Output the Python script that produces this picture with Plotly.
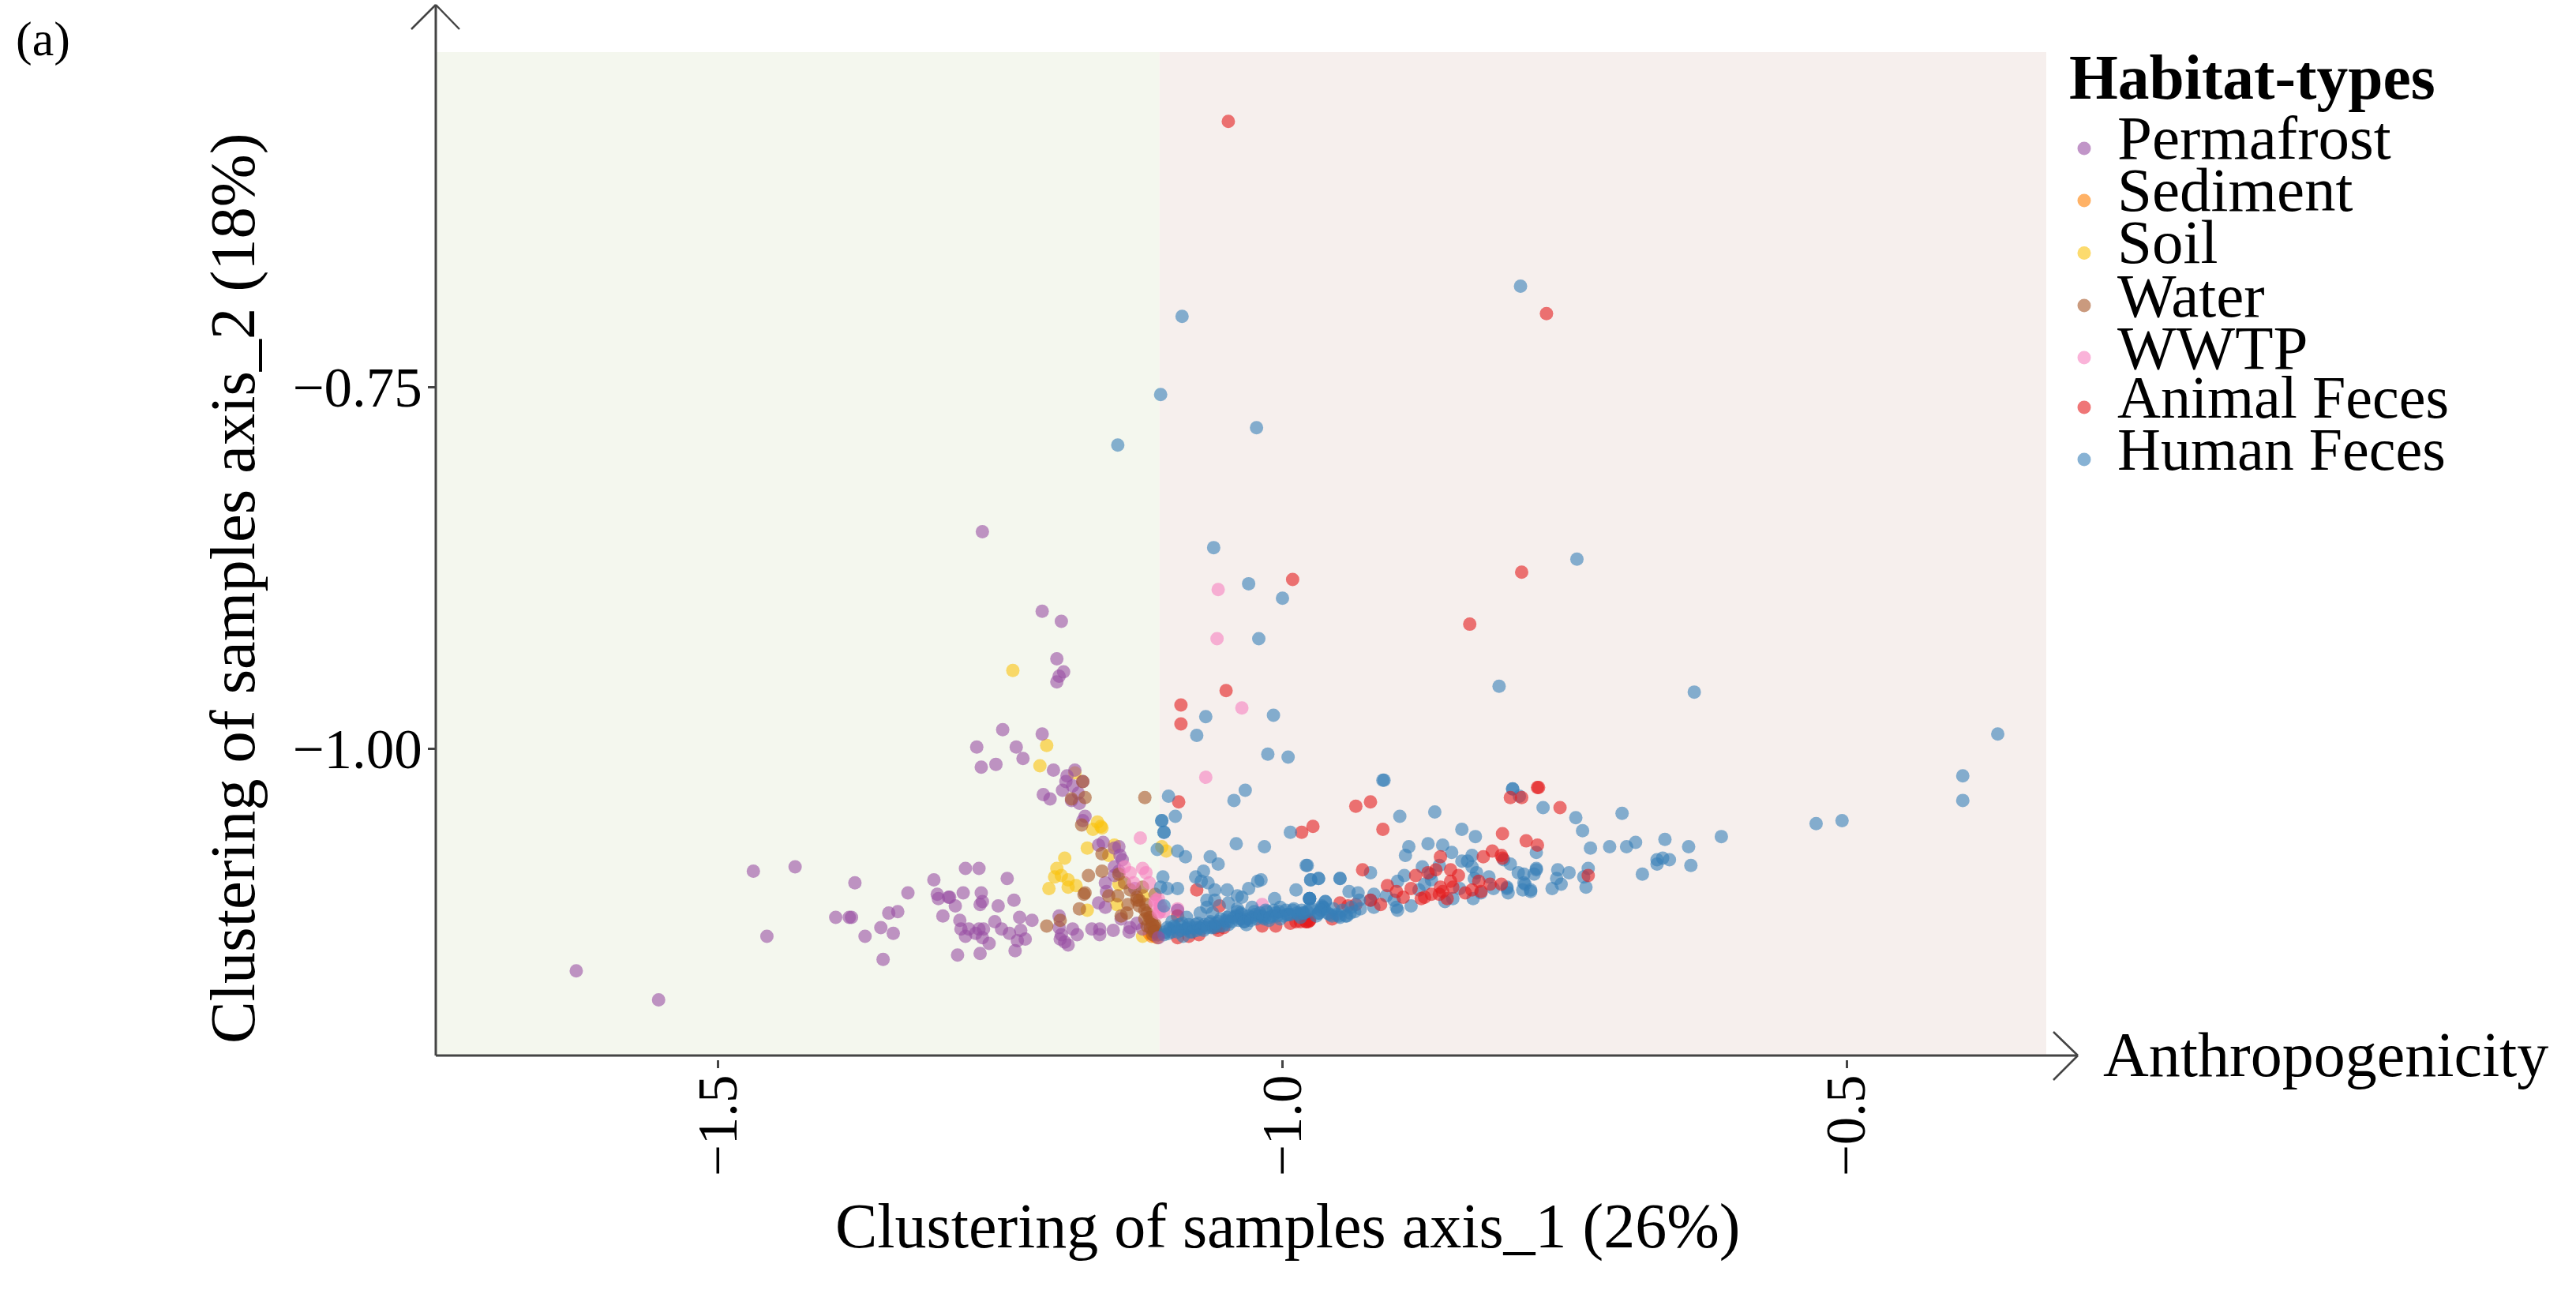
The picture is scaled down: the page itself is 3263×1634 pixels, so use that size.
import plotly.graph_objects as go

W, H = 3263, 1634

# ---------- values (axis units) ----------
permafrost_x = [-1.626,-1.553,-1.469,-1.432,-1.457,-1.379,-1.396,-1.384,-1.382,-1.349,-1.341,-1.332,-1.356,-1.370,-1.345,-1.354,-1.309,-1.306,-1.305,-1.295,-1.296,-1.283,-1.290,-1.301,-1.286,-1.281,-1.269,-1.244,-1.267,-1.266,-1.268,-1.252,-1.238,-1.233,-1.222,-1.255,-1.249,-1.242,-1.232,-1.235,-1.228,-1.237,-1.260,-1.268,-1.288,-1.285,-1.278,-1.281,-1.272,-1.269,-1.265,-1.266,
-1.248,-1.213,-1.271,-1.236,-1.230,-1.254,-1.267,-1.203,-1.184,-1.191,-1.192,-1.177,-1.195,-1.186,-1.181,-1.212,-1.206,-1.187,-1.180,-1.175,-1.177,-1.159,-1.163,-1.145,-1.149,-1.144,-1.142,-1.149,-1.145,-1.149,-1.157,-1.156,-1.131,-1.163,-1.157,-1.198,-1.198,-1.186,-1.182,-1.196,-1.197,-1.193,-1.190,-1.169,-1.162,-1.162,-1.150,-1.136,-1.143,-1.129,-1.135,-1.124,-1.110,-1.093,
-1.266,-1.213,-1.196,-1.200,-1.194,-1.198,-1.200]
permafrost_y = [-1.154,-1.174,-1.085,-1.082,-1.130,-1.093,-1.117,-1.117,-1.117,-1.114,-1.113,-1.100,-1.124,-1.130,-1.128,-1.146,-1.091,-1.101,-1.104,-1.103,-1.103,-1.100,-1.109,-1.116,-1.119,-1.083,-1.083,-1.090,-1.100,-1.106,-1.108,-1.109,-1.105,-1.117,-1.119,-1.120,-1.125,-1.128,-1.126,-1.133,-1.132,-1.140,-1.135,-1.142,-1.143,-1.125,-1.125,-1.130,-1.128,-1.125,-1.125,-1.131,
-0.987,-0.990,-0.999,-0.999,-1.007,-1.011,-1.013,-1.015,-1.015,-1.019,-1.023,-1.023,-1.029,-1.026,-1.031,-1.032,-1.035,-1.036,-1.038,-1.047,-1.050,-1.065,-1.067,-1.068,-1.069,-1.074,-1.077,-1.082,-1.085,-1.088,-1.093,-1.099,-1.097,-1.107,-1.110,-1.116,-1.124,-1.125,-1.129,-1.129,-1.132,-1.134,-1.136,-1.125,-1.125,-1.129,-1.126,-1.127,-1.118,-1.121,-1.124,-1.125,-1.131,-1.112,
-0.850,-0.905,-0.912,-0.938,-0.947,-0.950,-0.954]

sediment_x = [-1.111,-1.113,-1.116,-1.118]
sediment_y = [-1.131,-1.130,-1.130,-1.128]

soil_x = [-1.209,-1.215,-1.164,-1.168,-1.161,-1.160,-1.173,-1.154,-1.149,-1.193,-1.200,-1.202,-1.196,-1.190,-1.183,-1.190,-1.207,-1.173,-1.147,-1.145,-1.124,-1.107,-1.103,-1.124,-1.184,-1.239]
soil_y = [-0.998,-1.012,-1.051,-1.056,-1.054,-1.055,-1.069,-1.074,-1.067,-1.076,-1.083,-1.089,-1.088,-1.091,-1.095,-1.096,-1.097,-1.112,-1.108,-1.094,-1.130,-1.068,-1.071,-1.102,-1.017,-0.946]

water_x = [-1.122,-1.175,-1.177,-1.187,-1.178,-1.160,-1.172,-1.160,-1.175,-1.176,-1.180,-1.197,-1.209,-1.145,-1.140,-1.154,-1.146,-1.135,-1.124,-1.113,-1.129,-1.137,-1.121,-1.138,-1.143,-1.120,-1.116,-1.120,-1.113,-1.112,-1.115,-1.110,-1.127,-1.129,-1.118,-1.122,-1.117,-1.114,-1.127,-1.122,-1.117,-1.115,-1.113,-1.113]
water_y = [-1.034,-1.034,-1.023,-1.035,-1.053,-1.073,-1.088,-1.085,-1.100,-1.101,-1.111,-1.119,-1.123,-1.087,-1.093,-1.102,-1.102,-1.098,-1.096,-1.101,-1.105,-1.108,-1.108,-1.114,-1.116,-1.114,-1.119,-1.123,-1.122,-1.126,-1.129,-1.129,-1.109,-1.103,-1.117,-1.118,-1.124,-1.127,-1.105,-1.112,-1.117,-1.122,-1.124,-1.127]

wwtp_x = [-1.126,-1.124,-1.121,-1.135,-1.140,-1.118,-1.132,-1.112,-1.109,-1.110,-1.105,-1.093,-1.018,-1.068,-1.057,-1.058,-1.036,-1.110,-1.108,-1.109,-1.113]
wwtp_y = [-1.062,-1.083,-1.086,-1.086,-1.082,-1.093,-1.093,-1.105,-1.110,-1.114,-1.113,-1.111,-1.108,-1.020,-0.890,-0.924,-0.972,-1.104,-1.109,-1.113,-1.107]

animal_x = [-1.048,-0.766,-0.788,-0.991,-0.834,-1.050,-1.090,-1.090,-0.774,
-0.773,-0.798,-0.788,-0.922,-0.935,-0.754,-0.973,-0.911,-0.983,-0.805,-0.784,-0.774,-0.814,-0.806,-0.822,-0.805,-0.860,-0.929,-0.851,-0.864,-0.871,-0.844,-0.882,-0.729,-0.851,-0.826,-0.907,-0.816,-0.806,-0.886,-0.899,-0.860,-0.849,-0.838,-0.832,-0.824,-0.861,-0.868,-0.874,-0.877,-0.854,-0.858,-0.893,-0.913,-0.922,-0.935,-0.942,-0.949,-0.956,-0.977,-0.979,-0.976,
-1.092,-1.076,-1.056,-1.060,-1.059,-1.093,-1.018,-1.006,-0.993,-0.988,-0.984,-0.979,-0.976,-1.093,-1.083,-1.074,-1.057,-1.052]
animal_y = [-0.566,-0.699,-0.878,-0.883,-0.914,-0.960,-0.970,-0.983,-1.027,
-1.027,-1.034,-1.034,-1.037,-1.040,-1.041,-1.054,-1.056,-1.058,-1.059,-1.064,-1.067,-1.071,-1.074,-1.075,-1.076,-1.075,-1.084,-1.084,-1.084,-1.086,-1.088,-1.088,-1.088,-1.092,-1.092,-1.095,-1.094,-1.094,-1.097,-1.099,-1.096,-1.096,-1.100,-1.098,-1.099,-1.101,-1.101,-1.103,-1.104,-1.104,-1.099,-1.103,-1.108,-1.105,-1.108,-1.109,-1.107,-1.118,-1.120,-1.120,-1.119,
-1.037,-1.098,-1.109,-1.123,-1.124,-1.116,-1.123,-1.123,-1.121,-1.120,-1.120,-1.120,-1.119,-1.131,-1.130,-1.129,-1.126,-1.124]

human_x = [-0.789,-1.089,-1.108,-1.023,-1.146,-1.061,-0.739,-1.030,-1.000,-1.021,-0.808,-1.068,-1.076,-1.008,-1.013,-0.995,-0.910,-1.033,-0.796,
-0.635,-0.366,-0.397,-0.397,-0.504,-0.527,-0.611,
-0.911,-0.796,-0.790,-0.769,-0.896,-0.865,-0.740,-0.699,-0.734,-0.841,-0.829,-0.661,-0.687,-0.695,-0.710,-0.727,-0.640,-0.871,-0.858,-0.888,-0.891,-0.850,-0.775,-0.832,-0.841,-0.836,-0.804,-0.798,-0.978,-0.876,-0.861,-0.832,-0.663,-0.668,-0.668,-0.657,-0.638,-0.681,-0.729,-0.756,-0.746,-0.775,-0.775,-0.791,-0.786,-0.777,-0.733,-0.757,-0.753,-0.761,-0.731,-0.786,-0.785,-0.787,-0.780,-0.780,-0.801,-0.801,-0.800,-0.813,-0.817,-0.828,-0.830,-0.831,-0.824,-0.843,-0.849,-0.856,-0.868,-0.869,-0.892,-0.898,-0.874,-0.879,-0.886,-0.898,-0.899,-0.901,-0.908,-0.919,-0.919,-0.922,-0.922,-0.949,-0.968,-0.975,-0.941,-0.933,-0.931,-0.932,-0.940,-0.944,-0.950,-0.958,-0.962,-0.976,-0.976,-0.964,-0.965,-0.968,-0.976,-0.982,
-1.101,-1.095,-1.107,-1.107,-1.105,-1.105,-1.043,-1.111,-1.093,-1.086,-1.041,-1.016,-0.993,-1.064,-1.057,-1.070,-0.979,-1.077,-1.106,-1.072,-1.066,-1.108,-1.102,-1.093,-1.060,-1.049,-1.030,-1.019,-1.022,-0.975,-0.968,-0.949,-0.988,-1.040,-1.036,-1.007,-0.976,-0.976,-1.067,-1.060,-1.048,-0.962,-0.965,-0.963,-1.105,-1.067,-1.040,-1.027,-1.015,-1.002,-0.990,-0.968,-1.073,-1.062,-1.085,-1.049,-1.037,-1.021,-1.009,-0.996,-0.984,-0.956,-0.949,
-1.102,-1.098,-1.098,-1.091,-1.090,-1.084,-1.082,-1.077,-1.076,-1.071,-1.070,-1.065,-1.063,-1.057,-1.056,-1.049,-1.048,-1.041,-1.040,-1.034,-1.032,-1.031,-1.024,-1.016,-1.012,-1.006,-1.002,-0.995,-0.987,-0.981,-1.088,-1.105,-1.101,-1.095,-1.085,-1.074,-1.062,-1.037,-1.027,-1.018,
-1.104,-1.100,-1.096,-1.093,-1.089,-1.086,-1.083,-1.080,-1.078,-1.075,-1.072,-1.069,-1.067,-1.064,-1.061,-1.059,-1.055,-1.053,-1.050,-1.047,-1.045,-1.043,-1.039,-1.036,-1.034,-1.030,-1.028,-1.025,-1.023,-1.020,-1.017,-1.014,-1.011,-1.008,-1.005,-1.003,-0.999,-0.997,-0.993,-0.991,-0.986,-0.983,-0.978,-0.974,-0.970,-0.966,-0.960,-0.955,-0.952,-0.947,-0.943,-0.939,-0.936]
human_y = [-0.680,-0.701,-0.755,-0.778,-0.790,-0.861,-0.869,-0.886,-0.896,-0.924,-0.957,-0.978,-0.991,-0.977,-1.004,-1.006,-1.022,-1.029,-1.028,
-0.961,-0.990,-1.019,-1.036,-1.050,-1.052,-1.061,
-1.022,-1.028,-1.033,-1.041,-1.047,-1.044,-1.048,-1.045,-1.057,-1.056,-1.061,-1.063,-1.065,-1.068,-1.068,-1.069,-1.068,-1.066,-1.067,-1.068,-1.074,-1.072,-1.072,-1.074,-1.078,-1.078,-1.077,-1.080,-1.081,-1.082,-1.081,-1.082,-1.076,-1.077,-1.080,-1.077,-1.081,-1.087,-1.083,-1.084,-1.086,-1.083,-1.084,-1.086,-1.087,-1.087,-1.089,-1.090,-1.094,-1.097,-1.096,-1.093,-1.094,-1.098,-1.098,-1.099,-1.096,-1.097,-1.100,-1.097,-1.089,-1.086,-1.090,-1.104,-1.100,-1.097,-1.104,-1.106,-1.091,-1.087,-1.088,-1.092,-1.094,-1.098,-1.109,-1.112,-1.110,-1.105,-1.102,-1.101,-1.110,-1.105,-1.086,-1.090,-1.090,-1.091,-1.099,-1.100,-1.111,-1.105,-1.114,-1.116,-1.116,-1.115,-1.106,-1.104,-1.104,-1.110,-1.109,-1.114,-1.111,-1.114,
-1.033,-1.047,-1.050,-1.050,-1.058,-1.058,-1.036,-1.070,-1.071,-1.075,-1.066,-1.068,-1.058,-1.075,-1.080,-1.085,-1.081,-1.089,-1.089,-1.092,-1.093,-1.096,-1.097,-1.097,-1.098,-1.098,-1.097,-1.091,-1.092,-1.091,-1.090,-1.090,-1.098,-1.102,-1.103,-1.104,-1.104,-1.104,-1.105,-1.105,-1.107,-1.106,-1.110,-1.111,-1.109,-1.110,-1.111,-1.110,-1.112,-1.110,-1.111,-1.114,-1.114,-1.114,-1.117,-1.117,-1.114,-1.116,-1.116,-1.115,-1.117,-1.116,-1.117,
-1.124,-1.120,-1.127,-1.122,-1.126,-1.124,-1.127,-1.122,-1.126,-1.123,-1.126,-1.121,-1.124,-1.120,-1.123,-1.120,-1.122,-1.116,-1.113,-1.120,-1.122,-1.118,-1.115,-1.118,-1.119,-1.114,-1.118,-1.115,-1.114,-1.114,-1.130,-1.129,-1.128,-1.124,-1.125,-1.124,-1.123,-1.118,-1.117,-1.116,
-1.127,-1.125,-1.123,-1.127,-1.121,-1.125,-1.122,-1.127,-1.124,-1.121,-1.125,-1.122,-1.124,-1.120,-1.124,-1.121,-1.118,-1.123,-1.119,-1.116,-1.120,-1.117,-1.119,-1.115,-1.120,-1.116,-1.119,-1.113,-1.118,-1.114,-1.117,-1.113,-1.117,-1.112,-1.116,-1.113,-1.116,-1.112,-1.115,-1.112,-1.115,-1.112,-1.113,-1.111,-1.116,-1.112,-1.114,-1.111,-1.115,-1.112,-1.116,-1.110,-1.113]

habitats = ["Permafrost", "Sediment", "Soil", "Water", "WWTP", "Animal Feces", "Human Feces"]
colors = ["#984EA3", "#FF7F00", "#FAC30D", "#A65628", "#F781BF", "#E41A1C", "#377EB8"]
x_ticks = [-1.5, -1.0, -0.5]
y_ticks = [-1.0, -0.75]
boundary_x = -1.109
x_limits = [-1.7505, -0.323]
y_limits = [-1.21257, -0.51803]
# -------------------------------------------------------------

FONT = "Liberation Serif"
AXIS = "#444444"
ALPHA = 0.6
MS = 17
color = dict(zip(habitats, colors))


def px(v):
    return v / W


def py(v):
    return 1 - v / H


def scatter(name, xs, ys):
    return go.Scatter(x=xs, y=ys, mode="markers", name=name, showlegend=False, cliponaxis=False,
                      marker=dict(size=MS, color=color[name], opacity=ALPHA, line=dict(width=0)))


split_h, split_p = -0.93, -1.115
fig = go.Figure()
fig.add_trace(scatter("Soil", soil_x, soil_y))
fig.add_trace(scatter("Sediment", sediment_x, sediment_y))
fig.add_trace(scatter("Permafrost", [a for a in permafrost_x if a <= split_p],
                      [b for a, b in zip(permafrost_x, permafrost_y) if a <= split_p]))
fig.add_trace(scatter("Water", water_x, water_y))
fig.add_trace(scatter("WWTP", wwtp_x, wwtp_y))
fig.add_trace(scatter("Human Feces", [a for a in human_x if a >= split_h],
                      [b for a, b in zip(human_x, human_y) if a >= split_h]))
fig.add_trace(scatter("Animal Feces", animal_x, animal_y))
fig.add_trace(scatter("Human Feces", [a for a in human_x if a < split_h],
                      [b for a, b in zip(human_x, human_y) if a < split_h]))
fig.add_trace(scatter("Permafrost", [a for a in permafrost_x if a > split_p],
                      [b for a, b in zip(permafrost_x, permafrost_y) if a > split_p]))

shapes = [
    dict(type="rect", xref="x", yref="y", layer="below", line_width=0, fillcolor="#F4F7EE",
         x0=x_limits[0], x1=boundary_x, y0=y_limits[0], y1=y_limits[1]),
    dict(type="rect", xref="x", yref="y", layer="below", line_width=0, fillcolor="#F6EFED",
         x0=boundary_x, x1=x_limits[1], y0=y_limits[0], y1=y_limits[1]),
]


def seg(x0, y0, x1, y1, w=3):
    return dict(type="line", xref="paper", yref="paper", x0=px(x0), y0=py(y0), x1=px(x1), y1=py(y1),
                line=dict(color=AXIS, width=w), layer="above")


shapes += [seg(552, 1337, 552, 6), seg(552, 1337, 2632, 1337),
           seg(521, 37, 552, 6, 2.5), seg(582, 37, 552, 6, 2.5),
           seg(2601, 1307, 2632, 1337, 2.5), seg(2601, 1368, 2632, 1337, 2.5)]

annotations = []


def text(s, x, y, size, xanchor="left", angle=0, bold=False):
    annotations.append(dict(text=f"<b>{s}</b>" if bold else s, xref="paper", yref="paper",
                            x=px(x), y=py(y), xanchor=xanchor, yanchor="middle", showarrow=False,
                            textangle=angle, font=dict(family=FONT, size=size, color="black")))


text("(a)", 18, 50, 62)
text("Clustering of samples axis_2 (18%)", 295, 745, 80.5, xanchor="center", angle=-90)
text("Clustering of samples axis_1 (26%)", 1631, 1553, 80, xanchor="center")
text("Anthropogenicity", 2662, 1336, 80)
text("Habitat-types", 2619, 98, 79.5, bold=True)

leg_text_y = [175, 241, 307, 374, 440, 503, 569]
leg_mark_y = [188, 254, 320.5, 387, 453, 516, 582]
leg_size = [79, 79, 79, 79, 79, 76, 76]
for name, ty, my, fs in zip(habitats, leg_text_y, leg_mark_y, leg_size):
    text(name, 2680, ty, fs)
    r = MS / 2
    shapes.append(dict(type="circle", xref="paper", yref="paper", line_width=0, layer="above",
                       x0=px(2640 - r), x1=px(2640 + r), y0=py(my + r), y1=py(my - r),
                       fillcolor=color[name], opacity=ALPHA))

tick_font = dict(family=FONT, size=71, color="black")
fig.update_layout(
    width=W, height=H, margin=dict(l=0, r=0, t=0, b=0, autoexpand=False),
    paper_bgcolor="white", plot_bgcolor="white", showlegend=False,
    shapes=shapes, annotations=annotations,
    xaxis=dict(domain=[px(552), px(2640)], range=[-1.7505, -0.2894], anchor="free", position=(H - 1342) / H,
               showline=False, showgrid=False, zeroline=False, tickmode="array", tickvals=x_ticks,
               tickformat=".1f", ticks="outside", ticklen=10, tickwidth=3, tickcolor=AXIS,
               tickangle=-90, tickfont=tick_font, ticklabelstandoff=-20),
    yaxis=dict(domain=[(H - 1337) / H, 1], range=[-1.21257, -0.48197], anchor="x",
               showline=False, showgrid=False, zeroline=False, tickmode="array", tickvals=y_ticks,
               tickformat=".2f", ticks="outside", ticklen=9, tickwidth=3, tickcolor=AXIS,
               tickfont=tick_font, ticklabelstandoff=-7),
)

fig.write_html("out.html", config={"displayModeBar": False},
               post_script="document.body.style.margin='0';document.body.style.overflow='hidden';")
